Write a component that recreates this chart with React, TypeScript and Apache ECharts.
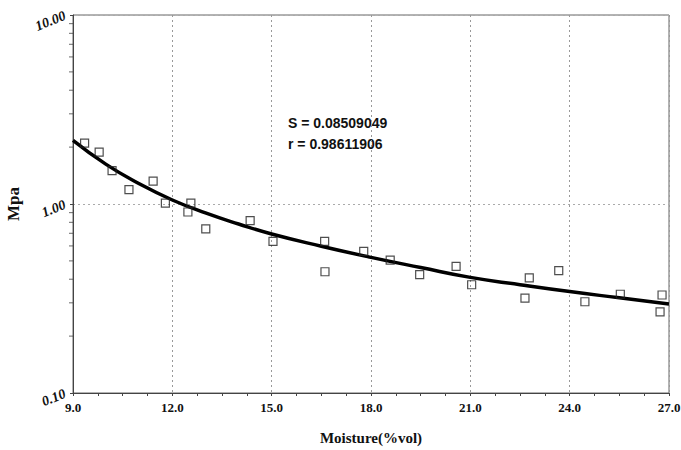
import React, { useEffect, useRef } from "react";
import * as echarts from "echarts";

const moisture = [9.35, 9.79, 10.18, 10.69, 11.42, 11.79, 12.56, 12.47, 13.01, 14.35, 15.04, 16.6, 16.61, 17.78, 18.58, 19.47, 20.57, 21.04, 22.78, 22.65, 23.67, 24.46, 25.53, 26.79, 26.73];
const mpa = [2.1, 1.88, 1.5, 1.19, 1.32, 1.01, 1.01, 0.907, 0.738, 0.816, 0.635, 0.635, 0.438, 0.562, 0.505, 0.423, 0.468, 0.374, 0.407, 0.318, 0.444, 0.304, 0.333, 0.33, 0.269];

const fitX = [9, 10, 11, 12, 13, 14, 15, 16.5, 18, 19.5, 21, 22.5, 24, 25.5, 27];
const fitY = [2.17, 1.62, 1.28, 1.05, 0.897, 0.784, 0.694, 0.598, 0.522, 0.461, 0.409, 0.374, 0.344, 0.319, 0.296];

const yMinorTicks = [0.2, 0.3, 0.4, 0.5, 0.6, 0.7, 0.8, 0.9, 2, 3, 4, 5, 6, 7, 8, 9];

const statS = "S = 0.08509049";
const statR = "r = 0.98611906";

export default function App() {
  const ref = useRef<HTMLDivElement>(null);
  useEffect(() => {
    if (!ref.current) return;
    const chart = echarts.init(ref.current, null, { renderer: "svg" });
    const serif = "'Liberation Serif', 'Times New Roman', serif";
    chart.setOption({
      animation: false,
      backgroundColor: "#ffffff",
      grid: {
        left: 73,
        right: 12,
        top: 15,
        bottom: 57,
        containLabel: false,
        outerBoundsMode: "none",
        show: true,
        borderColor: "#666",
        borderWidth: 1,
      },
      xAxis: {
        type: "value",
        min: 9,
        max: 27,
        interval: 3,
        name: "Moisture(%vol)",
        nameLocation: "middle",
        nameGap: 37,
        nameTextStyle: { fontFamily: serif, fontWeight: "bold", fontSize: 15, color: "#111" },
        axisLine: { show: true, lineStyle: { color: "#444", width: 1 } },
        axisTick: { show: true, length: 3, lineStyle: { color: "#444" } },
        minorTick: { show: true, splitNumber: 4, length: 3, lineStyle: { color: "#444" } },
        axisLabel: {
          fontFamily: serif,
          fontWeight: "bold",
          fontSize: 13,
          color: "#111",
          margin: 8,
          formatter: (v: number) => v.toFixed(1),
        },
        splitLine: { show: true, lineStyle: { color: "#999", type: [2, 3], width: 1 } },
      },
      yAxis: {
        type: "log",
        logBase: 10,
        min: 0.1,
        max: 10,
        name: "Mpa",
        nameLocation: "middle",
        nameGap: 43,
        nameRotate: 90,
        nameTextStyle: { fontFamily: serif, fontWeight: "bold", fontSize: 17, color: "#111" },
        axisLine: { show: true, lineStyle: { color: "#444", width: 1 } },
        axisTick: { show: true, length: 3, lineStyle: { color: "#444" } },
        axisLabel: {
          fontFamily: serif,
          fontWeight: "bold",
          fontStyle: "italic",
          fontSize: 14,
          color: "#111",
          margin: 8,
          rotate: 22,
          formatter: (v: number) => v.toFixed(2),
        },
        splitLine: { show: true, lineStyle: { color: "#aaa", type: [2, 3], width: 1 } },
      },
      graphic: [
        {
          type: "text",
          left: 288,
          top: 116,
          style: { text: statS, font: "bold 14px 'Liberation Sans', Arial, sans-serif", fill: "#111" },
        },
        {
          type: "text",
          left: 288,
          top: 137,
          style: { text: statR, font: "bold 14px 'Liberation Sans', Arial, sans-serif", fill: "#111" },
        },
      ],
      series: [
        {
          type: "scatter",
          silent: true,
          clip: false,
          data: yMinorTicks.map((v) => [9, v]),
          symbol: "rect",
          symbolSize: [4, 1],
          symbolOffset: [-2, 0],
          itemStyle: { color: "#444" },
          z: 5,
        },
        {
          type: "line",
          data: fitX.map((x, i) => [x, fitY[i]]),
          smooth: true,
          showSymbol: false,
          symbol: "none",
          lineStyle: { color: "#000", width: 3.5 },
          z: 3,
        },
        {
          type: "scatter",
          data: moisture.map((x, i) => [x, mpa[i]]),
          symbol: "rect",
          symbolSize: 8,
          itemStyle: { color: "rgba(255,255,255,0)", borderColor: "#222", borderWidth: 1.2 },
          z: 4,
        },
      ],
    });
    return () => chart.dispose();
  }, []);
  return (
    <div
      ref={ref}
      style={{ position: "fixed", left: 0, top: 0, width: 681, height: 450, background: "#fff" }}
    />
  );
}
